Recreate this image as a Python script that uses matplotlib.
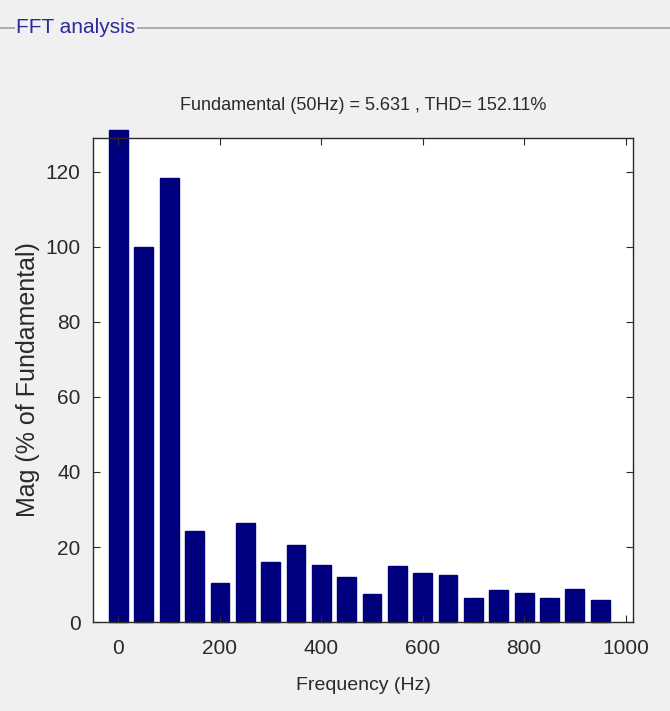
import numpy as np
import matplotlib
matplotlib.use("Agg")
import matplotlib.pyplot as plt

# Harmonic spectrum
freqs = [0, 50, 100, 150, 200, 250, 300, 350, 400, 450,
         500, 550, 600, 650, 700, 750, 800, 850, 900, 950]
mags = [131, 100, 118.4, 24.3, 10.4, 26.4, 16, 20.5, 15.2, 12,
        7.5, 15, 13, 12.5, 6.4, 8.5, 7.7, 6.4, 8.8, 5.9]
xticks = [0, 200, 400, 600, 800, 1000]
yticks = [0, 20, 40, 60, 80, 100, 120]
title = "Fundamental (50Hz) = 5.631 , THD= 152.11%"

narrow = ["Liberation Sans Narrow", "Liberation Sans", "DejaVu Sans"]
bg = "#f0f0f0"
ink = "#2a2a2a"

fig = plt.figure(figsize=(6.7, 7.11), dpi=100, facecolor=bg)

# panel frame line with label, like the MATLAB GUI
fig.add_artist(plt.Line2D([0, 1], [0.961, 0.961], color="#a0a0a0", lw=1.2))
fig.text(0.024, 0.962, "FFT analysis", family=narrow, fontsize=15,
         color="#2a2a9a", va="center", ha="left",
         bbox=dict(facecolor=bg, edgecolor="none", pad=1))

ax = fig.add_axes([0.139, 0.125, 0.806, 0.681])
ax.bar(freqs, mags, width=37, color="#00007f", edgecolor="#00007f", clip_on=False)
ax.set_xlim(-50, 1015)
ax.set_ylim(0, 129)
ax.set_xticks(xticks)
ax.set_yticks(yticks)
ax.tick_params(direction="in", top=True, right=True, length=5, width=0.8,
               labelsize=15, colors=ink)
ax.tick_params(axis="x", pad=12)
ax.tick_params(axis="y", pad=9)
for lab in ax.get_xticklabels() + ax.get_yticklabels():
    lab.set_family(narrow)
for s in ax.spines.values():
    s.set_color(ink)
    s.set_linewidth(1.0)

ax.set_title(title, family=narrow, fontsize=13, color=ink, pad=20)
ax.set_xlabel("Frequency (Hz)", family=narrow, fontsize=14, color=ink, labelpad=14)
ax.set_ylabel("Mag (% of Fundamental)", family=["Liberation Sans", "DejaVu Sans"],
              fontsize=18, color=ink, labelpad=4)

fig.savefig("out.png", dpi=100, facecolor=bg)
